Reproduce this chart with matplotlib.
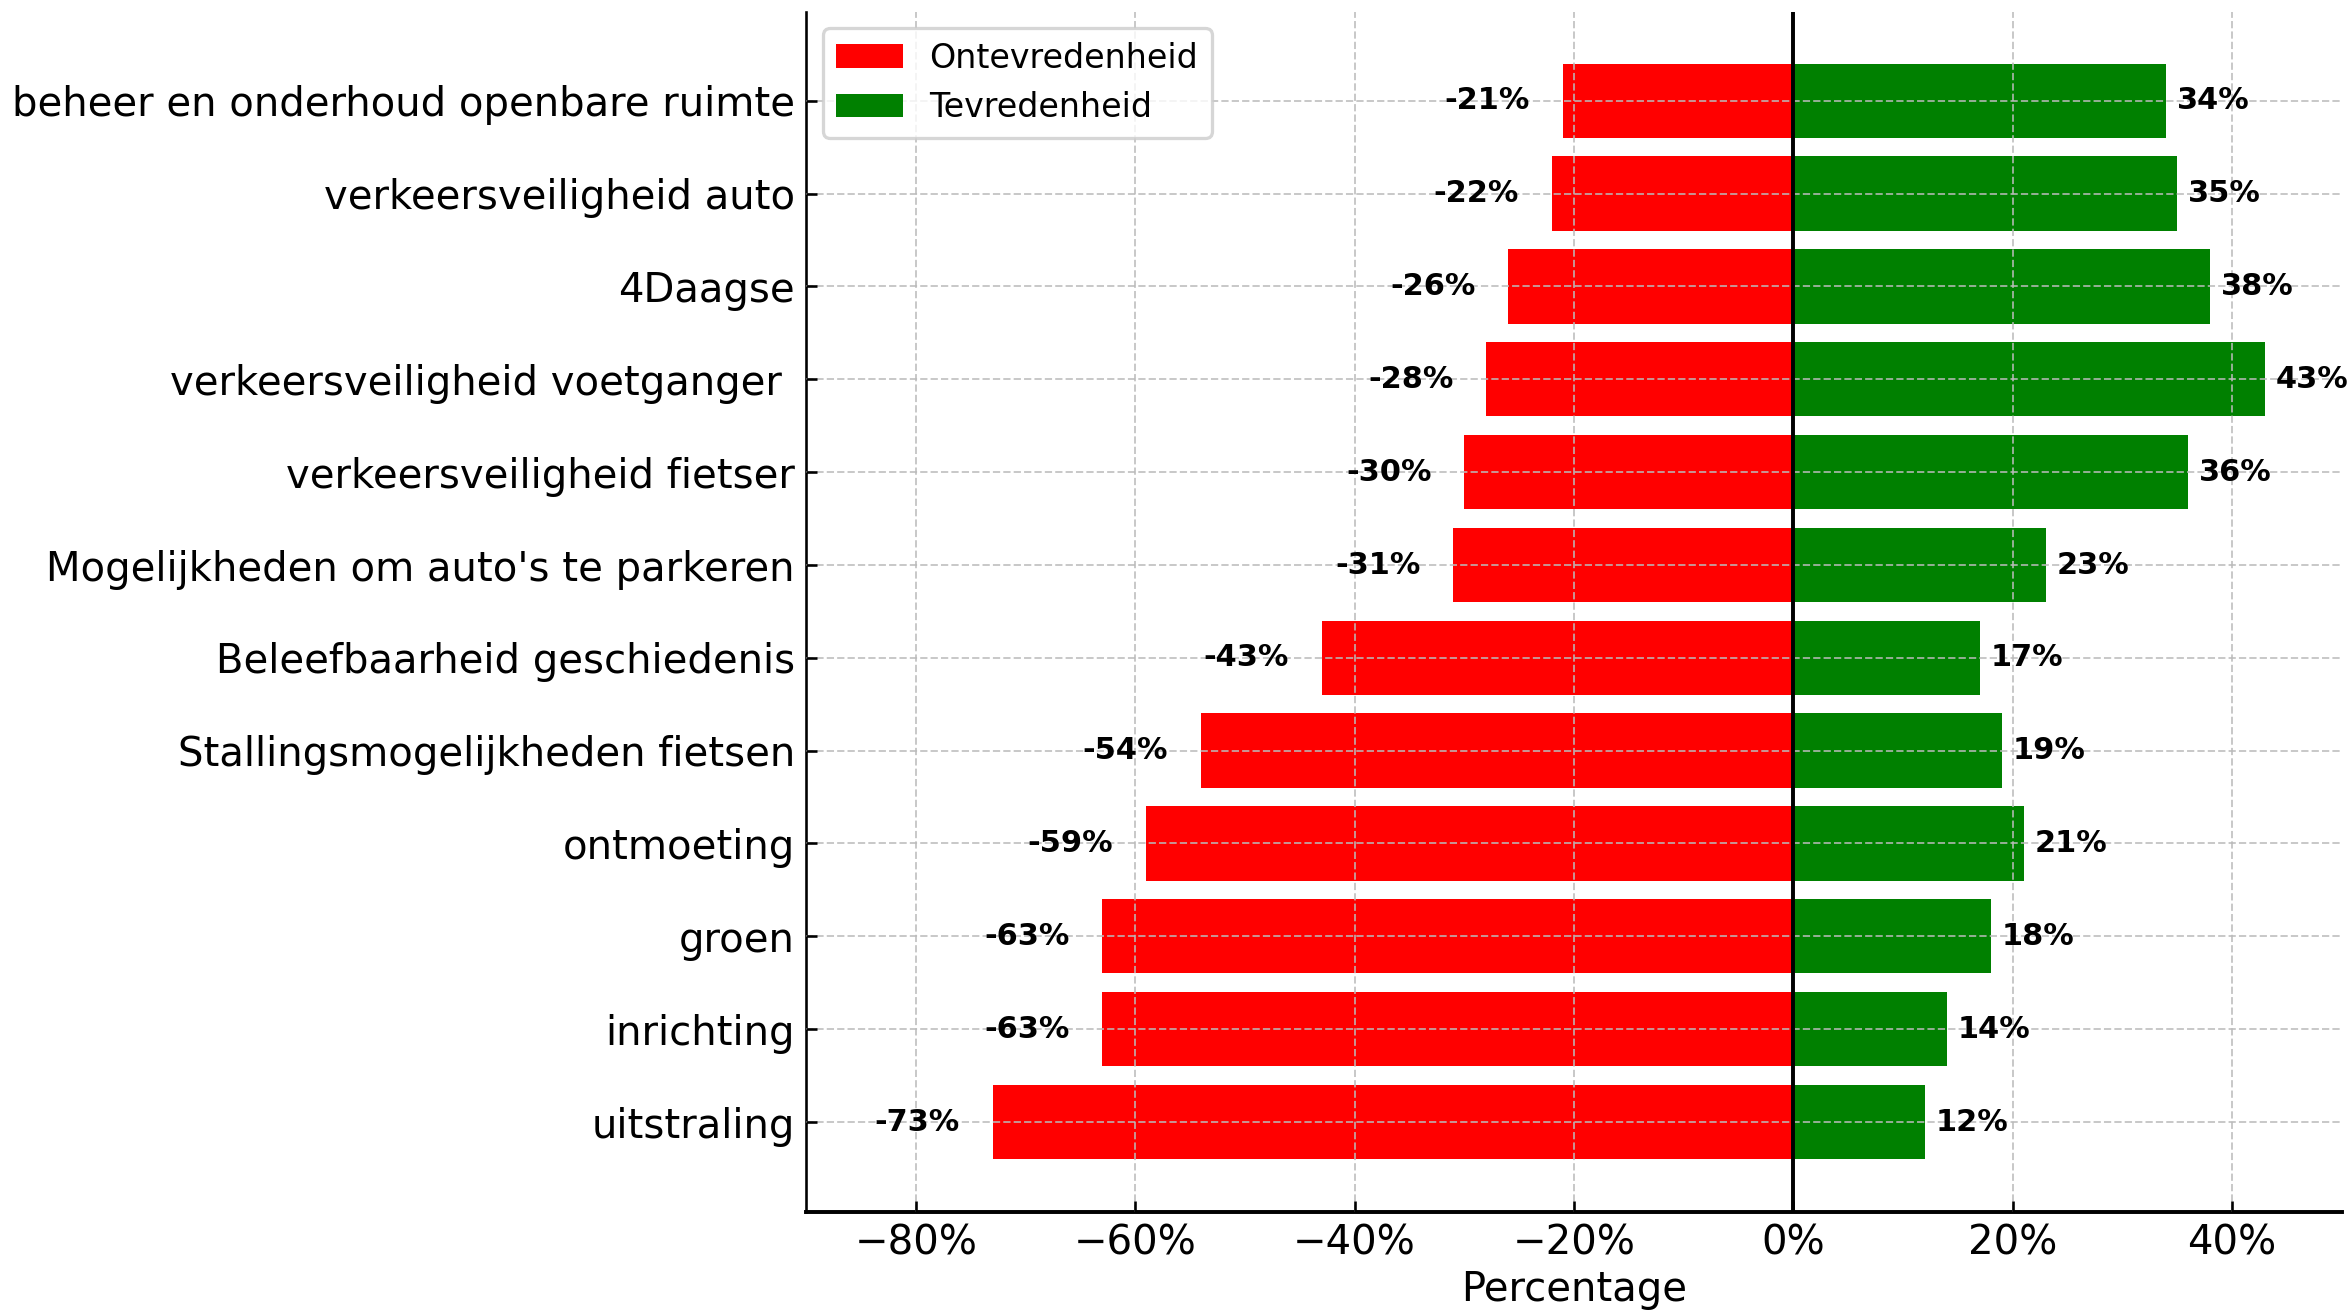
import numpy as np
import matplotlib
matplotlib.use("Agg")
import matplotlib.pyplot as plt
from matplotlib.ticker import FuncFormatter

categories = ["beheer en onderhoud openbare ruimte", "verkeersveiligheid auto", "4Daagse",
              "verkeersveiligheid voetganger ", "verkeersveiligheid fietser",
              "Mogelijkheden om auto's te parkeren", "Beleefbaarheid geschiedenis",
              "Stallingsmogelijkheden fietsen", "ontmoeting", "groen", "inrichting", "uitstraling"]
ontevreden = [-21, -22, -26, -28, -30, -31, -43, -54, -59, -63, -63, -73]
tevreden = [34, 35, 38, 43, 36, 23, 17, 19, 21, 18, 14, 12]

fig = plt.figure(figsize=(10, 5.59), dpi=235.1)
ax = fig.add_axes([0.343, 0.0776, 0.653, 0.9134])

y = np.arange(len(categories))
ax.barh(y, ontevreden, height=0.8, color="red", label="Ontevredenheid")
ax.barh(y, tevreden, height=0.8, color="green", label="Tevredenheid")
ax.axvline(0, color="black", linewidth=1.2, zorder=3)

for i in range(len(categories)):
    ax.text(ontevreden[i] - 3, y[i], f"{ontevreden[i]}%", ha="right", va="center",
            fontsize=9.3, fontweight="bold")
    ax.text(tevreden[i] + 1, y[i], f"{tevreden[i]}%", ha="left", va="center",
            fontsize=9.3, fontweight="bold")

ax.set_yticks(y)
ax.set_yticklabels(categories, fontsize=12.3)
ax.set_xlim(-90, 50)
ax.set_ylim(len(categories) - 1 + 0.97, -0.96)
ax.set_xticks([-80, -60, -40, -20, 0, 20, 40])
ax.xaxis.set_major_formatter(FuncFormatter(lambda v, p: f"{int(v)}%".replace("-", "\u2212")))
ax.tick_params(axis="x", labelsize=12.3, direction="in")
ax.tick_params(axis="y", direction="in")
ax.set_xlabel("Percentage", fontsize=12.3, labelpad=2)

ax.grid(True, linestyle="--", color="#bbbbbb", linewidth=0.6, alpha=0.8)
ax.set_axisbelow(False)
ax.spines["top"].set_visible(False)
ax.spines["right"].set_visible(False)
ax.spines["bottom"].set_linewidth(1.2)

ax.legend(loc="upper left", fontsize=10.2)

plt.savefig("out.png")
